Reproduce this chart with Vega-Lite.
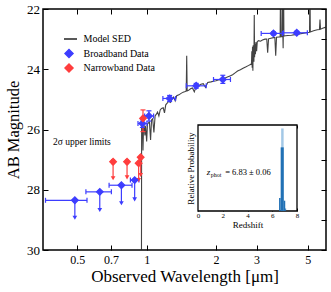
{
  "$schema": "https://vega.github.io/schema/vega-lite/v6.json",
  "width": 283,
  "height": 241,
  "autosize": {"type": "none"},
  "padding": {"left": 43, "top": 9, "right": 5, "bottom": 42},
  "config": {
    "font": "Liberation Serif",
    "view": {"stroke": "black", "strokeWidth": 1.5},
    "axis": {"grid": false, "domain": false, "tickColor": "black", "labelColor": "black", "titleColor": "black", "titleFontWeight": "normal", "zindex": 1, "labelOverlap": false}
  },
  "datasets": {
    "sed": [
      {"lam": 0.36, "mag": 31.5}, {"lam": 0.949, "mag": 31.5}, {"lam": 0.951, "mag": 25.75}, {"lam": 0.955, "mag": 26.0},
      {"lam": 0.959, "mag": 25.9}, {"lam": 0.964, "mag": 26.7}, {"lam": 0.969, "mag": 25.95}, {"lam": 0.976, "mag": 25.9},
      {"lam": 0.983, "mag": 26.2}, {"lam": 0.99, "mag": 25.88}, {"lam": 1.0, "mag": 26.4}, {"lam": 1.008, "mag": 25.82},
      {"lam": 1.018, "mag": 25.78}, {"lam": 1.028, "mag": 25.75}, {"lam": 1.04, "mag": 26.35}, {"lam": 1.05, "mag": 25.68},
      {"lam": 1.062, "mag": 25.64}, {"lam": 1.075, "mag": 26.1}, {"lam": 1.088, "mag": 25.55}, {"lam": 1.1, "mag": 25.5},
      {"lam": 1.115, "mag": 25.42}, {"lam": 1.13, "mag": 25.55}, {"lam": 1.145, "mag": 25.35}, {"lam": 1.16, "mag": 25.3},
      {"lam": 1.18, "mag": 25.28}, {"lam": 1.195, "mag": 25.45}, {"lam": 1.21, "mag": 25.18}, {"lam": 1.23, "mag": 25.12},
      {"lam": 1.25, "mag": 25.05}, {"lam": 1.27, "mag": 25.1}, {"lam": 1.29, "mag": 24.98}, {"lam": 1.31, "mag": 24.92},
      {"lam": 1.33, "mag": 25.05}, {"lam": 1.35, "mag": 24.88}, {"lam": 1.38, "mag": 24.85}, {"lam": 1.41, "mag": 24.8},
      {"lam": 1.44, "mag": 24.76}, {"lam": 1.47, "mag": 24.74}, {"lam": 1.485, "mag": 24.72}, {"lam": 1.492, "mag": 23.55},
      {"lam": 1.499, "mag": 24.72}, {"lam": 1.52, "mag": 24.7}, {"lam": 1.55, "mag": 24.65}, {"lam": 1.58, "mag": 24.62},
      {"lam": 1.61, "mag": 24.75}, {"lam": 1.64, "mag": 24.57}, {"lam": 1.68, "mag": 24.55}, {"lam": 1.72, "mag": 24.5},
      {"lam": 1.76, "mag": 24.48}, {"lam": 1.8, "mag": 24.6}, {"lam": 1.84, "mag": 24.44}, {"lam": 1.9, "mag": 24.42},
      {"lam": 1.95, "mag": 24.4}, {"lam": 2.0, "mag": 24.38}, {"lam": 2.06, "mag": 24.35}, {"lam": 2.12, "mag": 24.32},
      {"lam": 2.18, "mag": 24.3}, {"lam": 2.24, "mag": 24.26}, {"lam": 2.3, "mag": 24.22}, {"lam": 2.36, "mag": 24.18},
      {"lam": 2.42, "mag": 24.12}, {"lam": 2.48, "mag": 24.06}, {"lam": 2.55, "mag": 24.02}, {"lam": 2.62, "mag": 23.97},
      {"lam": 2.7, "mag": 23.92}, {"lam": 2.76, "mag": 23.88}, {"lam": 2.82, "mag": 23.84}, {"lam": 2.85, "mag": 23.82},
      {"lam": 2.86, "mag": 23.4}, {"lam": 2.87, "mag": 23.95}, {"lam": 2.88, "mag": 23.25}, {"lam": 2.89, "mag": 24.05},
      {"lam": 2.9, "mag": 23.2}, {"lam": 2.91, "mag": 23.7}, {"lam": 2.92, "mag": 23.75}, {"lam": 2.93, "mag": 22.2},
      {"lam": 2.94, "mag": 23.6}, {"lam": 2.95, "mag": 23.15}, {"lam": 2.965, "mag": 23.5}, {"lam": 2.98, "mag": 23.1},
      {"lam": 3.0, "mag": 23.4}, {"lam": 3.02, "mag": 23.08}, {"lam": 3.06, "mag": 23.05}, {"lam": 3.12, "mag": 23.07},
      {"lam": 3.18, "mag": 23.03}, {"lam": 3.26, "mag": 23.0}, {"lam": 3.32, "mag": 23.0}, {"lam": 3.35, "mag": 23.45},
      {"lam": 3.38, "mag": 22.99}, {"lam": 3.46, "mag": 22.97}, {"lam": 3.55, "mag": 22.95}, {"lam": 3.6, "mag": 22.95},
      {"lam": 3.63, "mag": 23.55}, {"lam": 3.66, "mag": 22.94}, {"lam": 3.75, "mag": 22.93}, {"lam": 3.795, "mag": 22.93},
      {"lam": 3.81, "mag": 21.0}, {"lam": 3.825, "mag": 22.92}, {"lam": 3.87, "mag": 22.92}, {"lam": 3.885, "mag": 21.3},
      {"lam": 3.9, "mag": 22.91}, {"lam": 3.91, "mag": 23.3}, {"lam": 3.915, "mag": 22.91}, {"lam": 3.925, "mag": 21.0},
      {"lam": 3.94, "mag": 22.9}, {"lam": 4.0, "mag": 22.89}, {"lam": 4.1, "mag": 22.88}, {"lam": 4.25, "mag": 22.87},
      {"lam": 4.4, "mag": 22.85}, {"lam": 4.6, "mag": 22.83}, {"lam": 4.8, "mag": 22.8}, {"lam": 5.0, "mag": 22.78},
      {"lam": 5.09, "mag": 22.77}, {"lam": 5.11, "mag": 21.0}, {"lam": 5.13, "mag": 22.76}, {"lam": 5.3, "mag": 22.72},
      {"lam": 5.5, "mag": 22.69}, {"lam": 5.62, "mag": 22.68}, {"lam": 5.65, "mag": 22.35}, {"lam": 5.68, "mag": 22.67},
      {"lam": 5.8, "mag": 22.64}, {"lam": 6.0, "mag": 22.6}
    ],
    "pts": [
      {"series": "Broadband Data", "lam": 0.958, "mag": 25.8, "lo": 0.917, "hi": 1.003, "ylo": 25.68, "yhi": 25.93, "end": null},
      {"series": "Broadband Data", "lam": 1.023, "mag": 25.55, "lo": 0.98, "hi": 1.072, "ylo": 25.38, "yhi": 25.72, "end": null},
      {"series": "Broadband Data", "lam": 1.258, "mag": 24.97, "lo": 1.176, "hi": 1.335, "ylo": 24.87, "yhi": 25.07, "end": null},
      {"series": "Broadband Data", "lam": 1.64, "mag": 24.55, "lo": 1.486, "hi": 1.813, "ylo": 24.47, "yhi": 24.63, "end": null},
      {"series": "Broadband Data", "lam": 2.14, "mag": 24.34, "lo": 1.95, "hi": 2.31, "ylo": 24.2, "yhi": 24.47, "end": null},
      {"series": "Broadband Data", "lam": 3.55, "mag": 22.81, "lo": 3.14, "hi": 3.88, "ylo": 22.76, "yhi": 22.86, "end": null},
      {"series": "Broadband Data", "lam": 4.48, "mag": 22.79, "lo": 3.92, "hi": 4.98, "ylo": 22.74, "yhi": 22.84, "end": null},
      {"series": "Broadband Data", "lam": 0.488, "mag": 28.35, "lo": 0.364, "hi": 0.551, "ylo": null, "yhi": null, "end": 28.93},
      {"series": "Broadband Data", "lam": 0.626, "mag": 28.07, "lo": 0.545, "hi": 0.703, "ylo": null, "yhi": null, "end": 28.67},
      {"series": "Broadband Data", "lam": 0.777, "mag": 27.85, "lo": 0.687, "hi": 0.864, "ylo": null, "yhi": null, "end": 28.45},
      {"series": "Broadband Data", "lam": 0.887, "mag": 27.68, "lo": 0.85, "hi": 0.926, "ylo": null, "yhi": null, "end": 28.32},
      {"series": "Narrowband Data", "lam": 0.715, "mag": 27.07, "lo": 0.705, "hi": 0.725, "ylo": null, "yhi": null, "end": 27.62},
      {"series": "Narrowband Data", "lam": 0.822, "mag": 27.07, "lo": 0.811, "hi": 0.833, "ylo": null, "yhi": null, "end": 27.59},
      {"series": "Narrowband Data", "lam": 0.923, "mag": 27.12, "lo": 0.913, "hi": 0.933, "ylo": null, "yhi": null, "end": 27.68},
      {"series": "Narrowband Data", "lam": 0.942, "mag": 26.92, "lo": 0.933, "hi": 0.951, "ylo": null, "yhi": null, "end": 27.51},
      {"series": "Narrowband Data", "lam": 0.964, "mag": 25.63, "lo": 0.955, "hi": 0.973, "ylo": 25.35, "yhi": 26.07, "end": null}
    ],
    "pz": [
      {"kind": "light", "z0": 6.72, "z1": 6.92, "p": 0.96},
      {"kind": "dark", "z0": 6.55, "z1": 6.68, "p": 0.15},
      {"kind": "dark", "z0": 6.68, "z1": 6.93, "p": 0.74},
      {"kind": "dark", "z0": 6.93, "z1": 7.05, "p": 0.12},
      {"kind": "dark", "z0": 7.05, "z1": 7.12, "p": 0.03}
    ]
  },
  "layer": [
    {
      "layer": [
        {
          "data": {"name": "sed"},
          "mark": {"type": "line", "color": "#222222", "strokeWidth": 1.1, "opacity": 0.85, "clip": true},
          "encoding": {
            "x": {"field": "lam", "type": "quantitative", "scale": {"type": "log", "domain": [0.355, 6], "nice": false},
              "axis": {"orient": "bottom", "title": "Observed Wavelength [μm]", "values": [0.5, 0.7, 1, 2, 3, 5], "format": "~g", "tickSize": -5, "labelPadding": 9, "labelFontSize": 12, "titleFontSize": 17, "titlePadding": 3}},
            "y": {"field": "mag", "type": "quantitative", "scale": {"domain": [22, 30], "reverse": true, "nice": false, "zero": false},
              "axis": {"orient": "left", "title": "AB Magnitude", "values": [22, 23, 24, 25, 26, 27, 28, 29, 30], "labelExpr": "datum.value % 2 == 0 ? datum.label : ''", "tickSize": -5, "labelPadding": 8.5, "labelFontSize": 13, "titleFontSize": 16.5, "titlePadding": 5}}
          }
        },
        {
          "data": {"name": "pts"},
          "transform": [{"filter": "isValid(datum.lo)"}],
          "mark": {"type": "rule", "strokeWidth": 1.2, "clip": true},
          "encoding": {
            "x": {"field": "lo", "type": "quantitative", "scale": {"type": "log", "domain": [0.355, 6], "nice": false}},
            "x2": {"field": "hi"},
            "y": {"field": "mag", "type": "quantitative", "scale": {"domain": [22, 30], "reverse": true, "nice": false, "zero": false}},
            "color": {"field": "series", "type": "nominal", "scale": {"domain": ["Broadband Data", "Narrowband Data"], "range": ["#3d3dff", "#ff3d3d"]}, "legend": null}
          }
        },
        {
          "data": {"name": "pts"},
          "transform": [{"filter": "isValid(datum.lo)"}],
          "mark": {"type": "tick", "orient": "vertical", "size": 5, "thickness": 1.2, "opacity": 1, "clip": true},
          "encoding": {
            "x": {"field": "lo", "type": "quantitative", "scale": {"type": "log", "domain": [0.355, 6], "nice": false}},
            "y": {"field": "mag", "type": "quantitative", "scale": {"domain": [22, 30], "reverse": true, "nice": false, "zero": false}},
            "color": {"field": "series", "type": "nominal", "scale": {"domain": ["Broadband Data", "Narrowband Data"], "range": ["#3d3dff", "#ff3d3d"]}, "legend": null}
          }
        },
        {
          "data": {"name": "pts"},
          "transform": [{"filter": "isValid(datum.hi)"}],
          "mark": {"type": "tick", "orient": "vertical", "size": 5, "thickness": 1.2, "opacity": 1, "clip": true},
          "encoding": {
            "x": {"field": "hi", "type": "quantitative", "scale": {"type": "log", "domain": [0.355, 6], "nice": false}},
            "y": {"field": "mag", "type": "quantitative", "scale": {"domain": [22, 30], "reverse": true, "nice": false, "zero": false}},
            "color": {"field": "series", "type": "nominal", "scale": {"domain": ["Broadband Data", "Narrowband Data"], "range": ["#3d3dff", "#ff3d3d"]}, "legend": null}
          }
        },
        {
          "data": {"name": "pts"},
          "transform": [{"filter": "isValid(datum.ylo)"}],
          "mark": {"type": "rule", "strokeWidth": 1.2, "clip": true},
          "encoding": {
            "x": {"field": "lam", "type": "quantitative", "scale": {"type": "log", "domain": [0.355, 6], "nice": false}},
            "y": {"field": "ylo", "type": "quantitative", "scale": {"domain": [22, 30], "reverse": true, "nice": false, "zero": false}},
            "y2": {"field": "yhi"},
            "color": {"field": "series", "type": "nominal", "scale": {"domain": ["Broadband Data", "Narrowband Data"], "range": ["#3d3dff", "#ff3d3d"]}, "legend": null}
          }
        },
        {
          "data": {"name": "pts"},
          "transform": [{"filter": "isValid(datum.ylo)"}],
          "mark": {"type": "tick", "orient": "horizontal", "size": 5, "thickness": 1.2, "opacity": 1, "clip": true},
          "encoding": {
            "x": {"field": "lam", "type": "quantitative", "scale": {"type": "log", "domain": [0.355, 6], "nice": false}},
            "y": {"field": "ylo", "type": "quantitative", "scale": {"domain": [22, 30], "reverse": true, "nice": false, "zero": false}},
            "color": {"field": "series", "type": "nominal", "scale": {"domain": ["Broadband Data", "Narrowband Data"], "range": ["#3d3dff", "#ff3d3d"]}, "legend": null}
          }
        },
        {
          "data": {"name": "pts"},
          "transform": [{"filter": "isValid(datum.yhi)"}],
          "mark": {"type": "tick", "orient": "horizontal", "size": 5, "thickness": 1.2, "opacity": 1, "clip": true},
          "encoding": {
            "x": {"field": "lam", "type": "quantitative", "scale": {"type": "log", "domain": [0.355, 6], "nice": false}},
            "y": {"field": "yhi", "type": "quantitative", "scale": {"domain": [22, 30], "reverse": true, "nice": false, "zero": false}},
            "color": {"field": "series", "type": "nominal", "scale": {"domain": ["Broadband Data", "Narrowband Data"], "range": ["#3d3dff", "#ff3d3d"]}, "legend": null}
          }
        },
        {
          "data": {"name": "pts"},
          "transform": [{"filter": "isValid(datum.end)"}],
          "mark": {"type": "rule", "strokeWidth": 1.2, "clip": true},
          "encoding": {
            "x": {"field": "lam", "type": "quantitative", "scale": {"type": "log", "domain": [0.355, 6], "nice": false}},
            "y": {"field": "mag", "type": "quantitative", "scale": {"domain": [22, 30], "reverse": true, "nice": false, "zero": false}},
            "y2": {"field": "end"},
            "color": {"field": "series", "type": "nominal", "scale": {"domain": ["Broadband Data", "Narrowband Data"], "range": ["#3d3dff", "#ff3d3d"]}, "legend": null}
          }
        },
        {
          "data": {"name": "pts"},
          "transform": [{"filter": "isValid(datum.end)"}],
          "mark": {"type": "point", "shape": "triangle-down", "filled": true, "size": 22, "opacity": 1, "clip": true},
          "encoding": {
            "x": {"field": "lam", "type": "quantitative", "scale": {"type": "log", "domain": [0.355, 6], "nice": false}},
            "y": {"field": "end", "type": "quantitative", "scale": {"domain": [22, 30], "reverse": true, "nice": false, "zero": false}},
            "color": {"field": "series", "type": "nominal", "scale": {"domain": ["Broadband Data", "Narrowband Data"], "range": ["#3d3dff", "#ff3d3d"]}, "legend": null}
          }
        },
        {
          "data": {"name": "pts"},
          "mark": {"type": "point", "filled": true, "opacity": 1, "size": 45, "strokeWidth": 1.2, "clip": true},
          "encoding": {
            "x": {"field": "lam", "type": "quantitative", "scale": {"type": "log", "domain": [0.355, 6], "nice": false}},
            "y": {"field": "mag", "type": "quantitative", "scale": {"domain": [22, 30], "reverse": true, "nice": false, "zero": false}},
            "fill": {"field": "series", "type": "nominal", "scale": {"domain": ["Model SED", "Broadband Data", "Narrowband Data"], "range": ["#222222", "#3d3dff", "#ff3d3d"]},
              "legend": {"title": null, "orient": "none", "legendX": 21, "legendY": 23, "labelFontSize": 10, "labelFont": "Liberation Serif", "labelColor": "black", "symbolSize": 64, "rowPadding": 0.5, "clipHeight": 14, "gridAlign": "all", "labelOffset": 9.5, "padding": 0}},
            "stroke": {"field": "series", "type": "nominal", "scale": {"domain": ["Model SED", "Broadband Data", "Narrowband Data"], "range": ["#222222", "#3d3dff", "#ff3d3d"]},
              "legend": {"title": null, "orient": "none", "legendX": 21, "legendY": 23, "labelFontSize": 10, "labelFont": "Liberation Serif", "labelColor": "black", "symbolSize": 64, "rowPadding": 0.5, "clipHeight": 14, "gridAlign": "all", "labelOffset": 9.5, "padding": 0}},
            "shape": {"field": "series", "type": "nominal", "scale": {"domain": ["Model SED", "Broadband Data", "Narrowband Data"], "range": ["M-2,0L2,0", "diamond", "diamond"]},
              "legend": {"title": null, "orient": "none", "legendX": 21, "legendY": 23, "labelFontSize": 10, "labelFont": "Liberation Serif", "labelColor": "black", "symbolSize": 64, "rowPadding": 0.5, "clipHeight": 14, "gridAlign": "all", "labelOffset": 9.5, "padding": 0}}
          }
        },
        {
          "data": {"values": [{"lam": 0.392, "mag": 26.4, "t": "2σ upper limits"}]},
          "mark": {"type": "text", "align": "left", "baseline": "middle", "fontSize": 9.5, "color": "black"},
          "encoding": {
            "x": {"field": "lam", "type": "quantitative", "scale": {"type": "log", "domain": [0.355, 6], "nice": false}},
            "y": {"field": "mag", "type": "quantitative", "scale": {"domain": [22, 30], "reverse": true, "nice": false, "zero": false}},
            "text": {"field": "t"}
          }
        }
      ]
    },
    {
      "data": {"values": [{"lam": 1, "mag": 25}]},
      "mark": {"type": "point", "opacity": 0},
      "encoding": {
        "x": {"field": "lam", "type": "quantitative", "scale": {"type": "log", "domain": [0.355, 6], "nice": false},
          "axis": {"orient": "top", "values": [0.5, 0.7, 1, 2, 3, 5], "labels": false, "tickSize": -5, "title": null}},
        "y": {"field": "mag", "type": "quantitative", "scale": {"domain": [22, 30], "reverse": true, "nice": false, "zero": false},
          "axis": {"orient": "right", "values": [22, 23, 24, 25, 26, 27, 28, 29, 30], "labels": false, "tickSize": -5, "title": null}}
      }
    },
    {
      "layer": [
        {
          "data": {"values": [{"a": 0, "b": 8, "c": 0, "d": 1}]},
          "mark": {"type": "rect", "fill": "white", "stroke": "black", "strokeWidth": 1.3},
          "encoding": {
            "x": {"field": "a", "type": "quantitative", "scale": {"domain": [0, 8], "range": [155, 254], "nice": false, "zero": false},
              "axis": {"orient": "bottom", "offset": -39, "values": [0, 1, 2, 3, 4, 5, 6, 7, 8], "labelExpr": "datum.value % 2 == 0 ? datum.label : ''", "tickSize": -3, "labelPadding": 3, "labelFontSize": 7, "labelFlush": false, "title": "Redshift", "titleFontSize": 9, "titlePadding": 2}},
            "x2": {"field": "b"},
            "y": {"field": "c", "type": "quantitative", "scale": {"domain": [0, 1], "range": [202, 116], "nice": false, "zero": false},
              "axis": {"orient": "left", "offset": -155, "ticks": false, "labels": false, "title": "Relative Probability", "titleFontSize": 9, "titlePadding": 3}},
            "y2": {"field": "d"}
          }
        },
        {
          "data": {"name": "pz"},
          "transform": [{"filter": "datum.kind == 'light'"}],
          "mark": {"type": "rect", "color": "#a3c8e6"},
          "encoding": {
            "x": {"field": "z0", "type": "quantitative", "scale": {"domain": [0, 8], "range": [155, 254], "nice": false, "zero": false}},
            "x2": {"field": "z1"},
            "y": {"field": "p", "type": "quantitative", "scale": {"domain": [0, 1], "range": [202, 116], "nice": false, "zero": false}},
            "y2": {"datum": 0}
          }
        },
        {
          "data": {"name": "pz"},
          "transform": [{"filter": "datum.kind == 'dark'"}],
          "mark": {"type": "rect", "color": "#2171b5"},
          "encoding": {
            "x": {"field": "z0", "type": "quantitative", "scale": {"domain": [0, 8], "range": [155, 254], "nice": false, "zero": false}},
            "x2": {"field": "z1"},
            "y": {"field": "p", "type": "quantitative", "scale": {"domain": [0, 1], "range": [202, 116], "nice": false, "zero": false}},
            "y2": {"datum": 0}
          }
        },
        {
          "data": {"values": [{"z": 0.7, "p": 0.42, "t": "z"}]},
          "mark": {"type": "text", "align": "left", "baseline": "alphabetic", "fontSize": 9, "fontStyle": "italic", "color": "black"},
          "encoding": {
            "x": {"field": "z", "type": "quantitative", "scale": {"domain": [0, 8], "range": [155, 254], "nice": false, "zero": false}},
            "y": {"field": "p", "type": "quantitative", "scale": {"domain": [0, 1], "range": [202, 116], "nice": false, "zero": false}},
            "text": {"field": "t"}
          }
        },
        {
          "data": {"values": [{"z": 0.7, "p": 0.42, "t": "phot"}]},
          "mark": {"type": "text", "align": "left", "baseline": "alphabetic", "fontSize": 6, "dx": 4, "dy": 2, "color": "black"},
          "encoding": {
            "x": {"field": "z", "type": "quantitative", "scale": {"domain": [0, 8], "range": [155, 254], "nice": false, "zero": false}},
            "y": {"field": "p", "type": "quantitative", "scale": {"domain": [0, 1], "range": [202, 116], "nice": false, "zero": false}},
            "text": {"field": "t"}
          }
        },
        {
          "data": {"values": [{"z": 0.7, "p": 0.42, "t": "= 6.83 ± 0.06"}]},
          "mark": {"type": "text", "align": "left", "baseline": "alphabetic", "fontSize": 8.5, "dx": 18.5, "color": "black"},
          "encoding": {
            "x": {"field": "z", "type": "quantitative", "scale": {"domain": [0, 8], "range": [155, 254], "nice": false, "zero": false}},
            "y": {"field": "p", "type": "quantitative", "scale": {"domain": [0, 1], "range": [202, 116], "nice": false, "zero": false}},
            "text": {"field": "t"}
          }
        }
      ]
    },
    {
      "data": {"values": [{"z": 4}]},
      "mark": {"type": "point", "opacity": 0},
      "encoding": {
        "x": {"field": "z", "type": "quantitative", "scale": {"domain": [0, 8], "range": [155, 254], "nice": false, "zero": false},
          "axis": {"orient": "top", "offset": -116, "values": [0, 1, 2, 3, 4, 5, 6, 7, 8], "labels": false, "tickSize": -3, "title": null}}
      }
    }
  ],
  "resolve": {"scale": {"x": "independent", "y": "independent"}, "axis": {"x": "independent", "y": "independent"}}
}
